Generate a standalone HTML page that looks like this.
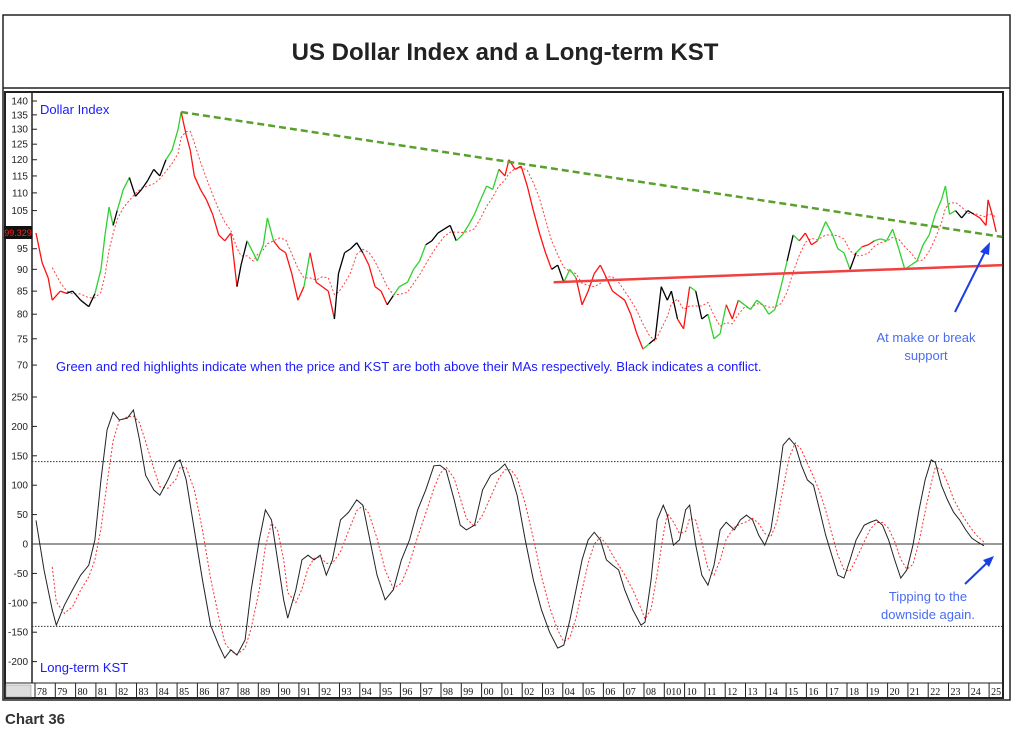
<!DOCTYPE html>
<html><head><meta charset="utf-8"><style>
body{margin:0;background:#fff;width:1023px;height:731px;overflow:hidden;font-family:"Liberation Sans",sans-serif}
</style></head><body>
<svg id="c" width="1023" height="731" xmlns="http://www.w3.org/2000/svg">
<rect x="3" y="15" width="1007" height="685" fill="#fff" stroke="#222" stroke-width="1.5"/>
<line x1="3" y1="88" x2="1010" y2="88" stroke="#222" stroke-width="1.5"/>
<text x="505" y="60" text-anchor="middle" font-size="24" font-weight="bold" fill="#222">US Dollar Index and a Long-term KST</text>
<rect x="5" y="92" width="998" height="606" fill="none" stroke="#222" stroke-width="2"/>
<line x1="32" y1="92" x2="32" y2="683" stroke="#222" stroke-width="1.5"/>
<line x1="5" y1="683" x2="1003" y2="683" stroke="#222" stroke-width="1"/>
<rect x="6" y="685" width="25" height="12" fill="#ddd" stroke="#888" stroke-width="0.5"/>
<g id="axes"></g><g id="marks"></g>
<text x="40" y="114" font-size="13" fill="#1a1aff">Dollar Index</text>
<text x="40" y="672" font-size="13" fill="#1a1aff">Long-term KST</text>
<text x="56" y="371" font-size="13" fill="#1a1aff">Green and red highlights indicate when the price and KST are both above their MAs respectively. Black indicates a conflict.</text>
<text x="926" y="342" font-size="13" fill="#4a6cf0" text-anchor="middle"><tspan x="926">At make or break</tspan><tspan x="926" dy="18">support</tspan></text>
<text x="928" y="601" font-size="13" fill="#4a6cf0" text-anchor="middle"><tspan x="928">Tipping to the</tspan><tspan x="928" dy="18">downside again.</tspan></text>
<line x1="955" y1="312" x2="987" y2="248" stroke="#1a3ee8" stroke-width="2"/>
<polygon points="990,242 980,252 989,255" fill="#1a3ee8"/>
<line x1="965" y1="584" x2="990" y2="560" stroke="#1a3ee8" stroke-width="2"/>
<polygon points="994,556 983,560 989,567" fill="#1a3ee8"/>
<rect x="4" y="226" width="28" height="13" fill="#111"/>
<text x="18" y="236" font-size="9" fill="#ff2020" text-anchor="middle">99.329</text>
<text x="5" y="724" font-size="15" font-weight="bold" fill="#333">Chart 36</text>
</svg>
<script>
const dxYears=[1978.0,1978.3,1978.6,1978.8,1979.2,1979.5,1979.8,1980.2,1980.6,1980.9,1981.2,1981.4,1981.6,1981.8,1982.0,1982.3,1982.6,1982.9,1983.2,1983.5,1983.8,1984.1,1984.4,1984.7,1985.0,1985.15,1985.4,1985.6,1985.8,1986.1,1986.4,1986.7,1987.0,1987.3,1987.6,1987.9,1988.1,1988.4,1988.7,1988.9,1989.2,1989.4,1989.7,1990.0,1990.3,1990.6,1990.9,1991.2,1991.5,1991.8,1992.1,1992.4,1992.7,1992.9,1993.2,1993.5,1993.8,1994.1,1994.4,1994.7,1995.0,1995.3,1995.6,1995.9,1996.3,1996.6,1996.9,1997.2,1997.5,1997.8,1998.1,1998.4,1998.7,1999.0,1999.3,1999.6,1999.9,2000.2,2000.5,2000.8,2001.1,2001.3,2001.6,2001.9,2002.2,2002.5,2002.8,2003.1,2003.4,2003.7,2004.0,2004.3,2004.6,2004.9,2005.2,2005.5,2005.8,2006.1,2006.4,2006.7,2007.0,2007.3,2007.6,2007.9,2008.2,2008.5,2008.8,2009.1,2009.3,2009.6,2009.9,2010.2,2010.5,2010.8,2011.1,2011.4,2011.7,2012.0,2012.3,2012.6,2012.9,2013.2,2013.5,2013.8,2014.1,2014.4,2014.7,2015.0,2015.3,2015.6,2015.9,2016.2,2016.5,2016.9,2017.2,2017.5,2017.8,2018.1,2018.4,2018.7,2019.0,2019.3,2019.6,2019.9,2020.2,2020.5,2020.8,2021.1,2021.4,2021.7,2022.0,2022.3,2022.6,2022.8,2023.0,2023.3,2023.6,2023.9,2024.2,2024.5,2024.8,2024.9,2025.1,2025.3];
const dxValues=[99,91.6,88,83,85,84.5,85,83,81.6,84.4,90,98.5,106,101,105,111,114.5,109,111,113.6,117,115,120,123,130,136,128,123,115,111,108,104,98.5,97,99,86,91,97,94,92,96,103,97,95,94,89,83,86,94,87,86,85,79,89,94,95,96.5,94,91,86,85,82,84,86,87,90,92,96,97,99,100,101,97,98.5,101,104,108,112,111,117,115,120,117,118,112,105,99,94,90,91,87,90,88,82,85,89,91,88,85,84,83,80,76,73,74,75,86,83,85,79,77,86,85,79,80,75,76,82,79,83,82,81,83,82,80,81,86,92,98.5,97,99,96,97,102,99,95,94,90,94,95.5,96,97,97.5,97,100,95,90,91,92,96,98.5,104,108,112,104,105,103,105,104,103,101,108,104,99.3];
const dxColors="rrrrrrbbbbggggbggbbbbbbgggrrrrrrrrrrbbgggggrrrrrgrrrrbbbbbrrrrbgggggbbbbbgggggggrrrrrrrrrbbggrrrrrrrrrrrgbbbbbrrgbbgggrrggggggggbgrrrgggggbgrrggggggggggggggbbbrr";
const kstYears=[1978.0,1978.4,1978.8,1979.0,1979.4,1979.8,1980.2,1980.6,1980.9,1981.2,1981.5,1981.8,1982.1,1982.5,1982.8,1983.1,1983.4,1983.8,1984.1,1984.5,1984.9,1985.1,1985.4,1985.8,1986.2,1986.6,1987.0,1987.3,1987.6,1987.9,1988.3,1988.6,1989.0,1989.3,1989.6,1989.9,1990.2,1990.4,1990.8,1991.1,1991.4,1991.7,1992.0,1992.3,1992.6,1993.0,1993.4,1993.8,1994.1,1994.4,1994.8,1995.2,1995.6,1996.0,1996.4,1996.8,1997.2,1997.6,1997.9,1998.2,1998.6,1998.9,1999.2,1999.6,2000.0,2000.4,2000.8,2001.1,2001.4,2001.7,2002.1,2002.5,2002.9,2003.3,2003.7,2004.0,2004.3,2004.6,2004.9,2005.2,2005.5,2005.8,2006.1,2006.4,2006.7,2007.0,2007.4,2007.8,2008.0,2008.3,2008.6,2008.9,2009.1,2009.4,2009.7,2010.0,2010.2,2010.5,2010.8,2011.1,2011.4,2011.7,2012.0,2012.4,2012.7,2013.0,2013.3,2013.6,2013.9,2014.2,2014.5,2014.8,2015.1,2015.4,2015.7,2016.0,2016.3,2016.6,2016.9,2017.2,2017.5,2017.8,2018.1,2018.4,2018.8,2019.1,2019.4,2019.7,2020.0,2020.3,2020.6,2020.9,2021.2,2021.5,2021.8,2022.1,2022.3,2022.6,2022.9,2023.2,2023.5,2023.8,2024.1,2024.4,2024.7];
const kstValues=[40,-45,-112,-138,-104,-78,-53,-36,7,109,194,224,211,214,228,177,117,92,83,109,139,143,109,24,-61,-138,-172,-194,-180,-189,-163,-78,7,58,41,-27,-95,-126,-78,-27,-19,-27,-19,-53,-27,41,54,75,66,15,-53,-95,-78,-27,7,58,92,133,134,126,75,32,24,32,92,117,126,136,117,83,7,-61,-112,-150,-177,-172,-129,-78,-27,7,20,7,-27,-36,-44,-78,-112,-138,-133,-61,41,66,49,-2,7,58,66,-2,-53,-70,-36,24,37,24,41,49,41,15,-2,24,92,168,180,168,134,109,100,58,15,-19,-53,-58,-27,7,32,37,41,32,7,-27,-58,-44,-2,58,109,143,139,100,75,54,41,24,10,3,-3];
const yearLabels=["78","79","80","81","82","83","84","85","86","87","88","89","90","91","92","93","94","95","96","97","98","99","00","01","02","03","04","05","06","07","08","010","10","11","12","13","14","15","16","17","18","19","20","21","22","23","24","25"];
const upperTicks=[140,135,130,125,120,115,110,105,95,90,85,80,75,70];
const lowerTicks=[250,200,150,100,50,0,-50,-100,-150,-200];
const trendGreen=[[1985.15,136],[2025.6,98]];
const trendRed=[[2003.5,87],[2025.6,91]];

const NS="http://www.w3.org/2000/svg";
const X=y=>36+(y-1978)*20.3;
const YU=v=>101+Math.log(140/v)*381;
const YL=v=>544-v*0.588;
const axes=document.getElementById('axes'),marks=document.getElementById('marks');
function mk(tag,attrs,parent){const e=document.createElementNS(NS,tag);for(const k in attrs)e.setAttribute(k,attrs[k]);parent.appendChild(e);return e;}
upperTicks.forEach(v=>{
  const t=mk('text',{x:28,y:YU(v)+3.5,'font-size':10,'text-anchor':'end',fill:'#222'},axes);t.textContent=v;
  
  
  mk('line',{x1:32,x2:37,y1:YU(v),y2:YU(v),stroke:'#222'},axes);
});
lowerTicks.forEach(v=>{
  const t=mk('text',{x:28,y:YL(v)+3.5,'font-size':10,'text-anchor':'end',fill:'#222'},axes);t.textContent=v;
  
  
  mk('line',{x1:32,x2:37,y1:YL(v),y2:YL(v),stroke:'#222'},axes);
});
yearLabels.forEach((l,i)=>{
  const x=X(1978+i);
  mk('line',{x1:x-1,x2:x-1,y1:683,y2:697,stroke:'#222','stroke-width':1},axes);
  const t=mk('text',{x:x+1,y:695,'font-size':10,'font-family':'Liberation Serif, serif',fill:'#111'},axes);t.textContent=l;
  
  
});
[140,-140].forEach(v=>{const l=mk('line',{x1:32,x2:1003,y1:YL(v),y2:YL(v),stroke:'#333','stroke-dasharray':'1.5,1.5','stroke-width':1},axes);

});
const zl=mk('line',{x1:32,x2:1003,y1:YL(0),y2:YL(0),stroke:'#333','stroke-width':1},axes);


function ma(vals,n){return vals.map((v,i)=>{let s=0,c=0;for(let j=Math.max(0,i-n+1);j<=i;j++){s+=vals[j];c++;}return s/c;});}
function poly(xs,vs,yf,attrs,name){const p=mk('polyline',Object.assign({points:xs.map((x,i)=>X(x)+','+yf(vs[i])).join(' '),fill:'none'},attrs),marks);

}
poly(dxYears.slice(3),ma(dxValues,4).slice(3),YU,{stroke:'#ff4040','stroke-width':1,'stroke-dasharray':'2,2'},'dollar-ma');
poly(kstYears.slice(2),ma(kstValues,3).slice(2),YL,{stroke:'#ff3030','stroke-width':1,'stroke-dasharray':'2,2'},'kst-ma');
const cmap={r:'#ff1010',g:'#30d030',b:'#000'};
for(let i=1;i<dxValues.length;i++){
  const s=mk('line',{x1:X(dxYears[i-1]),y1:YU(dxValues[i-1]),x2:X(dxYears[i]),y2:YU(dxValues[i]),stroke:cmap[dxColors[i]||'r'],'stroke-width':1.3},marks);
  
  
}
poly(kstYears,kstValues,YL,{stroke:'#222','stroke-width':1},'kst-line');
const g=mk('line',{x1:X(trendGreen[0][0]),y1:YU(trendGreen[0][1]),x2:X(trendGreen[1][0]),y2:YU(trendGreen[1][1]),stroke:'#5aa02c','stroke-width':2.5,'stroke-dasharray':'7,4'},marks);


const r=mk('line',{x1:X(trendRed[0][0]),y1:YU(trendRed[0][1]),x2:X(trendRed[1][0]),y2:YU(trendRed[1][1]),stroke:'#f04040','stroke-width':2.5},marks);


</script>
</body></html>
